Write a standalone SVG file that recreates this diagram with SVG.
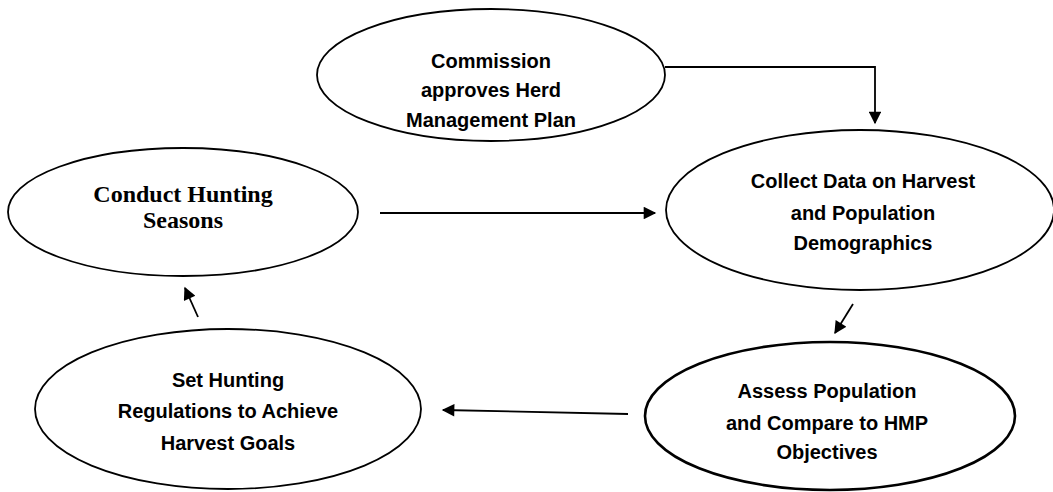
<svg xmlns="http://www.w3.org/2000/svg" width="1053" height="492" viewBox="0 0 1053 492">
<style>
.node{fill:#fff;stroke:#000;stroke-width:1.8}
.thick{stroke-width:2.6}
.t{font-family:"Liberation Sans",Arial,sans-serif;font-weight:bold;font-size:20px;fill:#000;text-anchor:middle}
.ts{font-family:"Liberation Serif","Times New Roman",serif;font-weight:bold;font-size:24px;fill:#000;text-anchor:middle}
.c{fill:none;stroke:#000;stroke-width:1.8}
</style>
<defs>
<marker id="ah" viewBox="0 0 10 10" refX="9" refY="5" markerWidth="8" markerHeight="7" markerUnits="strokeWidth" orient="auto">
<path d="M0,0 L10,5 L0,10 Z" fill="#000"/>
</marker>
</defs>
<rect width="1053" height="492" fill="#fff"/>
<g id="commission">
<ellipse class="node" cx="491" cy="75" rx="174" ry="66"/>
<text class="t" x="491" y="68">Commission</text>
<text class="t" x="491" y="97">approves Herd</text>
<text class="t" x="491" y="127">Management Plan</text>
</g>
<g id="conduct">
<ellipse class="node" cx="183" cy="212" rx="175" ry="64"/>
<text class="ts" x="183" y="202">Conduct Hunting</text>
<text class="ts" x="183" y="228">Seasons</text>
</g>
<g id="collect">
<ellipse class="node" cx="860" cy="210" rx="194" ry="80"/>
<text class="t" x="863" y="188">Collect Data on Harvest</text>
<text class="t" x="863" y="220">and Population</text>
<text class="t" x="863" y="250">Demographics</text>
</g>
<g id="assess">
<ellipse class="node thick" cx="830" cy="416" rx="185" ry="74"/>
<text class="t" x="827" y="398">Assess Population</text>
<text class="t" x="827" y="430">and Compare to HMP</text>
<text class="t" x="827" y="459">Objectives</text>
</g>
<g id="regulations">
<ellipse class="node" cx="228" cy="409" rx="193" ry="80"/>
<text class="t" x="228" y="387">Set Hunting</text>
<text class="t" x="228" y="418">Regulations to Achieve</text>
<text class="t" x="228" y="450">Harvest Goals</text>
</g>
<g id="connectors">
<path class="c" d="M665,67 H875 V123" marker-end="url(#ah)"/>
<path class="c" d="M380,213 H655" marker-end="url(#ah)"/>
<path class="c" d="M853,304 L835,333" marker-end="url(#ah)"/>
<path class="c" d="M628,414 L443,410" marker-end="url(#ah)"/>
<path class="c" d="M198,317 L185,288" marker-end="url(#ah)"/>
</g>
</svg>
